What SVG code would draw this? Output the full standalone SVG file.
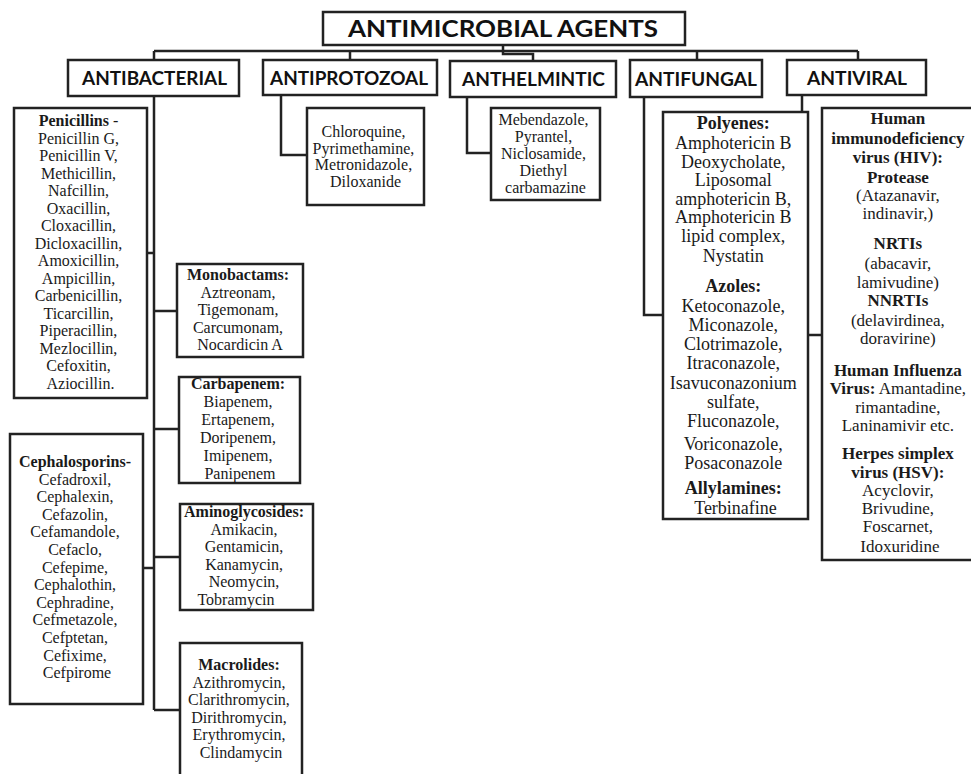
<svg xmlns="http://www.w3.org/2000/svg" width="971" height="774" viewBox="0 0 971 774">
<style>
.box{fill:#fff;stroke:#222;stroke-width:2.5}
.ln{fill:none;stroke:#222;stroke-width:2.5}
.hd{font-family:Lato,"Liberation Sans",sans-serif;font-weight:bold;fill:#111;text-anchor:middle}
.t{font-family:"Liberation Serif","Times New Roman",serif;fill:#1a1a1a;text-anchor:middle;font-size:16px}
.t19{font-size:18px}
.t18{font-size:17px}
.b{font-weight:bold}
</style>
<g id="connectors">
<path class="ln" d="M154 51 H858 M154 51 V60 M350 51 V60 M697 51 V60 M858 51 V60"/>
<path class="ln" d="M503 45 V54 H533 V61"/>
<path class="ln" d="M154 96 V710 M147 253 H154 M154 311 H177 M154 429 H179 M154 557 H180 M154 710 H180 M143 568 H154"/>
<path class="ln" d="M281 95 V155 H307"/>
<path class="ln" d="M467 97 V153 H491"/>
<path class="ln" d="M644 97 V315 H663"/>
<path class="ln" d="M802 95 V112 M808 335 H822"/>
</g>
<g id="root">
<rect class="box" x="323" y="12" width="362" height="33"/>
<text class="hd" x="503" y="37" font-size="22" textLength="310" lengthAdjust="spacingAndGlyphs">ANTIMICROBIAL AGENTS</text>
</g>
<g id="antibacterial">
<rect class="box" x="68" y="60" width="171" height="36"/>
<text class="hd" x="154.5" y="85" font-size="19" textLength="145" lengthAdjust="spacingAndGlyphs">ANTIBACTERIAL</text>
</g>
<g id="antiprotozoal">
<rect class="box" x="263" y="60" width="174" height="35"/>
<text class="hd" x="349" y="85" font-size="19" textLength="158" lengthAdjust="spacingAndGlyphs">ANTIPROTOZOAL</text>
</g>
<g id="anthelmintic">
<rect class="box" x="450" y="61" width="166" height="36"/>
<text class="hd" x="533.5" y="86" font-size="19" textLength="143" lengthAdjust="spacingAndGlyphs">ANTHELMINTIC</text>
</g>
<g id="antifungal">
<rect class="box" x="630" y="60" width="132" height="37"/>
<text class="hd" x="696" y="86" font-size="19" textLength="122" lengthAdjust="spacingAndGlyphs">ANTIFUNGAL</text>
</g>
<g id="antiviral">
<rect class="box" x="787" y="60" width="139" height="35"/>
<text class="hd" x="857" y="85" font-size="19" textLength="100" lengthAdjust="spacingAndGlyphs">ANTIVIRAL</text>
</g>
<g id="penicillins">
<rect class="box" x="14" y="108" width="133" height="290"/>
<text class="t">
<tspan x="80.5" y="126" class="b">Penicillins</tspan><tspan> -</tspan>
<tspan x="80.5" y="143.5">Penicillin  G,</tspan>
<tspan x="80.5" y="161">Penicillin  V,</tspan>
<tspan x="80.5" y="178.5">Methicillin,</tspan>
<tspan x="80.5" y="196">Nafcillin,</tspan>
<tspan x="80.5" y="213.5">Oxacillin,</tspan>
<tspan x="80.5" y="231">Cloxacillin,</tspan>
<tspan x="80.5" y="248.5">Dicloxacillin,</tspan>
<tspan x="80.5" y="266">Amoxicillin,</tspan>
<tspan x="80.5" y="283.5">Ampicillin,</tspan>
<tspan x="80.5" y="301">Carbenicillin,</tspan>
<tspan x="80.5" y="318.5">Ticarcillin,</tspan>
<tspan x="80.5" y="336">Piperacillin,</tspan>
<tspan x="80.5" y="353.5">Mezlocillin,</tspan>
<tspan x="80.5" y="371">Cefoxitin,</tspan>
<tspan x="80.5" y="388.5">Aziocillin.</tspan>
</text>
</g>
<g id="cephalosporins">
<rect class="box" x="10" y="434" width="133" height="270"/>
<text class="t">
<tspan x="77" y="467" class="b">Cephalosporins-</tspan>
<tspan x="77" y="484.6">Cefadroxil,</tspan>
<tspan x="77" y="502.2">Cephalexin,</tspan>
<tspan x="77" y="519.8">Cefazolin,</tspan>
<tspan x="77" y="537.4">Cefamandole,</tspan>
<tspan x="77" y="555">Cefaclo,</tspan>
<tspan x="77" y="572.6">Cefepime,</tspan>
<tspan x="77" y="590.2">Cephalothin,</tspan>
<tspan x="77" y="607.8">Cephradine,</tspan>
<tspan x="77" y="625.4">Cefmetazole,</tspan>
<tspan x="77" y="643">Cefptetan,</tspan>
<tspan x="77" y="660.6">Cefixime,</tspan>
<tspan x="77" y="678.2">Cefpirome</tspan>
</text>
</g>
<g id="monobactams">
<rect class="box" x="177" y="264" width="126" height="93"/>
<text class="t">
<tspan x="240" y="280" class="b">Monobactams:</tspan>
<tspan x="240" y="297.5">Aztreonam,</tspan>
<tspan x="240" y="315">Tigemonam,</tspan>
<tspan x="240" y="332.5">Carcumonam,</tspan>
<tspan x="240" y="350">Nocardicin A</tspan>
</text>
</g>
<g id="carbapenem">
<rect class="box" x="179" y="377" width="121" height="106"/>
<text class="t">
<tspan x="240" y="389" class="b">Carbapenem:</tspan>
<tspan x="240" y="407">Biapenem,</tspan>
<tspan x="240" y="425">Ertapenem,</tspan>
<tspan x="240" y="443">Doripenem,</tspan>
<tspan x="240" y="461">Imipenem,</tspan>
<tspan x="240" y="479">Panipenem</tspan>
</text>
</g>
<g id="aminoglycosides">
<rect class="box" x="180" y="504" width="133" height="106"/>
<text class="t">
<tspan x="246" y="517" class="b">Aminoglycosides:</tspan>
<tspan x="246" y="534.6">Amikacin,</tspan>
<tspan x="246" y="552.2">Gentamicin,</tspan>
<tspan x="246" y="569.8">Kanamycin,</tspan>
<tspan x="246" y="587.4">Neomycin,</tspan>
<tspan x="236" y="605">Tobramycin</tspan>
</text>
</g>
<g id="macrolides">
<rect class="box" x="180" y="643" width="122" height="140"/>
<text class="t">
<tspan x="241" y="670" class="b">Macrolides:</tspan>
<tspan x="241" y="687.6">Azithromycin,</tspan>
<tspan x="241" y="705.2">Clarithromycin,</tspan>
<tspan x="241" y="722.8">Dirithromycin,</tspan>
<tspan x="241" y="740.4">Erythromycin,</tspan>
<tspan x="241" y="758">Clindamycin</tspan>
</text>
</g>
<g id="antiprotozoal-drugs">
<rect class="box" x="307" y="108" width="117" height="97"/>
<text class="t">
<tspan x="365.5" y="137">Chloroquine,</tspan>
<tspan x="365.5" y="153.7">Pyrimethamine,</tspan>
<tspan x="365.5" y="170.4">Metronidazole,</tspan>
<tspan x="365.5" y="187.1">Diloxanide</tspan>
</text>
</g>
<g id="anthelmintic-drugs">
<rect class="box" x="491" y="108" width="109" height="92"/>
<text class="t">
<tspan x="545.5" y="125">Mebendazole,</tspan>
<tspan x="545.5" y="142">Pyrantel,</tspan>
<tspan x="545.5" y="159">Niclosamide,</tspan>
<tspan x="545.5" y="176">Diethyl</tspan>
<tspan x="545.5" y="193">carbamazine</tspan>
</text>
</g>
<g id="antifungal-drugs">
<rect class="box" x="663" y="112" width="145" height="407"/>
<text class="t t19">
<tspan x="735.5" y="129" class="b">Polyenes:</tspan>
<tspan x="735.5" y="149">Amphotericin B</tspan>
<tspan x="735.5" y="167.5">Deoxycholate,</tspan>
<tspan x="735.5" y="186">Liposomal</tspan>
<tspan x="735.5" y="204.5">amphotericin B,</tspan>
<tspan x="735.5" y="223">Amphotericin B</tspan>
<tspan x="735.5" y="241.5">lipid complex,</tspan>
<tspan x="735.5" y="262">Nystatin</tspan>
<tspan x="735.5" y="292" class="b">Azoles:</tspan>
<tspan x="735.5" y="312">Ketoconazole,</tspan>
<tspan x="735.5" y="331">Miconazole,</tspan>
<tspan x="735.5" y="350">Clotrimazole,</tspan>
<tspan x="735.5" y="369">Itraconazole,</tspan>
<tspan x="735.5" y="388.5">Isavuconazonium</tspan>
<tspan x="735.5" y="407.5">sulfate,</tspan>
<tspan x="735.5" y="427">Fluconazole,</tspan>
<tspan x="735.5" y="450">Voriconazole,</tspan>
<tspan x="735.5" y="469">Posaconazole</tspan>
<tspan x="735.5" y="494" class="b">Allylamines:</tspan>
<tspan x="735.5" y="514">Terbinafine</tspan>
</text>
</g>
<g id="antiviral-drugs">
<rect class="box" x="822" y="108" width="160" height="452"/>
<text class="t t18">
<tspan x="900" y="124" class="b">Human</tspan>
<tspan x="900" y="144" class="b">immunodeficiency</tspan>
<tspan x="900" y="163" class="b">virus (HIV):</tspan>
<tspan x="900" y="183" class="b">Protease</tspan>
<tspan x="900" y="201">(Atazanavir,</tspan>
<tspan x="900" y="219">indinavir,)</tspan>
<tspan x="900" y="249" class="b">NRTIs</tspan>
<tspan x="900" y="269">(abacavir,</tspan>
<tspan x="900" y="288">lamivudine)</tspan>
<tspan x="900" y="306" class="b">NNRTIs</tspan>
<tspan x="900" y="326">(delavirdinea,</tspan>
<tspan x="900" y="344">doravirine)</tspan>
<tspan x="900" y="376" class="b">Human Influenza</tspan>
<tspan x="900" y="394"><tspan class="b">Virus:</tspan> Amantadine,</tspan>
<tspan x="900" y="413">rimantadine,</tspan>
<tspan x="900" y="431">Laninamivir etc.</tspan>
<tspan x="900" y="459" class="b">Herpes simplex</tspan>
<tspan x="900" y="478" class="b">virus (HSV):</tspan>
<tspan x="900" y="496">Acyclovir,</tspan>
<tspan x="900" y="514">Brivudine,</tspan>
<tspan x="900" y="532">Foscarnet,</tspan>
<tspan x="900" y="552">Idoxuridine</tspan>
</text>
</g>
</svg>
